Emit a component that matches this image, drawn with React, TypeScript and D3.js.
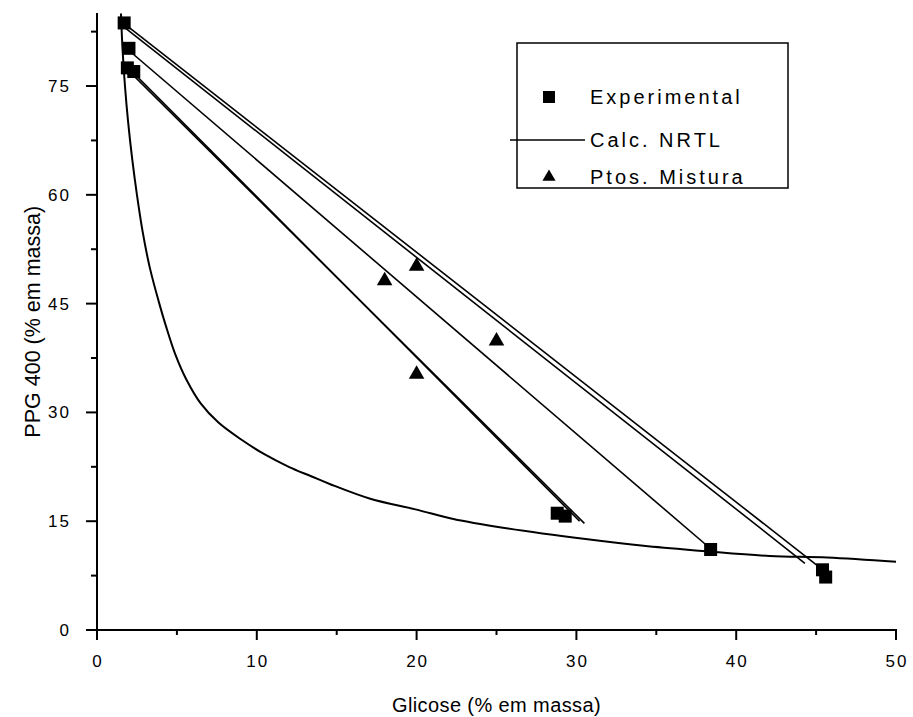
import React, { useEffect, useRef } from 'react';
import * as d3 from 'd3';

// binodal curve (NRTL)
const curveX = [1.5, 1.6, 1.75, 1.95, 2.2, 2.5, 2.85, 3.3, 3.9, 4.3, 4.9, 5.6, 6.5, 7.6, 9.0, 10.5, 12.0, 13.4, 14.6, 17.1, 20.0, 22.3, 25.4, 30.7, 34.2, 37.9, 42.1, 45.7, 50.0];
const curveY = [85.0, 80.0, 75.0, 70.0, 65.0, 60.0, 55.0, 50.0, 45.0, 42.0, 38.0, 34.5, 31.2, 28.6, 26.3, 24.2, 22.5, 21.2, 20.1, 18.1, 16.6, 15.3, 14.1, 12.5, 11.6, 10.9, 10.2, 10.0, 9.4];

// tie lines (top phase -> bottom phase)
const tieX1 = [1.7, 1.6, 2.0, 1.9, 2.2];
const tieY1 = [83.6, 83.3, 79.9, 77.3, 77.0];
const tieX2 = [45.3, 44.3, 38.4, 30.5, 30.2];
const tieY2 = [8.5, 9.2, 11.2, 14.7, 15.0];

// experimental points
const expX = [1.7, 2.0, 1.9, 2.3, 28.8, 29.3, 38.4, 45.4, 45.6];
const expY = [83.7, 80.2, 77.5, 77.0, 16.1, 15.7, 11.1, 8.3, 7.3];

// mixture points
const mixX = [18.0, 20.0, 25.0, 20.0];
const mixY = [48.3, 50.3, 40.0, 35.4];

const xTicks = [0, 10, 20, 30, 40, 50];
const yTicks = [0, 15, 30, 45, 60, 75];
const legendLabels = ['Experimental', 'Calc. NRTL', 'Ptos. Mistura'];

const App = () => {
  const ref = useRef<SVGSVGElement>(null);

  useEffect(() => {
    const svg = d3.select(ref.current);
    svg.selectAll('*').remove();

    const x = d3.scaleLinear().domain([0, 50]).range([97, 896]);
    const y = d3.scaleLinear().domain([0, 85]).range([630, 13.5]);
    const font = '"Liberation Sans", Arial, sans-serif';

    // tie lines
    const g = svg.append('g');
    tieX1.forEach((v, i) => {
      g.append('line')
        .attr('x1', x(v)).attr('y1', y(tieY1[i]))
        .attr('x2', x(tieX2[i])).attr('y2', y(tieY2[i]))
        .attr('stroke', '#000').attr('stroke-width', 1.6);
    });

    // binodal
    const line = d3.line<number>()
      .x((d, i) => x(curveX[i]))
      .y((d) => y(d))
      .curve(d3.curveCatmullRom);
    g.append('path')
      .attr('d', line(curveY) as string)
      .attr('fill', 'none').attr('stroke', '#000').attr('stroke-width', 2);

    // squares
    expX.forEach((v, i) => {
      g.append('rect')
        .attr('x', x(v) - 6.5).attr('y', y(expY[i]) - 6.5)
        .attr('width', 13).attr('height', 13).attr('fill', '#000');
    });

    // triangles
    const tri = d3.symbol().type(d3.symbolTriangle).size(105);
    mixX.forEach((v, i) => {
      g.append('path')
        .attr('d', tri() as string)
        .attr('transform', `translate(${x(v)},${y(mixY[i]) + 1})`)
        .attr('fill', '#000');
    });

    // x axis
    const xAxis = svg.append('g').attr('transform', 'translate(0,630)');
    xAxis.append('line').attr('x1', 96).attr('x2', 897).attr('stroke', '#000').attr('stroke-width', 2);
    d3.range(0, 51, 5).forEach((t) => {
      const major = t % 10 === 0;
      xAxis.append('line')
        .attr('x1', x(t)).attr('x2', x(t)).attr('y1', 0).attr('y2', major ? 10 : 5)
        .attr('stroke', '#000').attr('stroke-width', 2);
    });
    xTicks.forEach((t) => {
      xAxis.append('text')
        .attr('x', x(t) + 1).attr('y', 37)
        .attr('text-anchor', 'middle')
        .attr('font-family', font).attr('font-size', 17).attr('letter-spacing', 2)
        .text(t);
    });
    svg.append('text')
      .attr('x', x(25)).attr('y', 712)
      .attr('text-anchor', 'middle')
      .attr('font-family', font).attr('font-size', 20).attr('letter-spacing', 0.4)
      .text('Glicose (% em massa)');

    // y axis
    const yAxis = svg.append('g').attr('transform', 'translate(97,0)');
    yAxis.append('line').attr('y1', 13).attr('y2', 631).attr('stroke', '#000').attr('stroke-width', 2);
    d3.range(0, 83, 7.5).forEach((t) => {
      const major = t % 15 === 0;
      yAxis.append('line')
        .attr('y1', y(t)).attr('y2', y(t)).attr('x1', 0).attr('x2', major ? -11 : -6)
        .attr('stroke', '#000').attr('stroke-width', 2);
    });
    yTicks.forEach((t) => {
      yAxis.append('text')
        .attr('x', -26).attr('y', y(t) + 6)
        .attr('text-anchor', 'end')
        .attr('font-family', font).attr('font-size', 17).attr('letter-spacing', 2)
        .text(t);
    });
    svg.append('text')
      .attr('transform', `translate(40,${y(42.5)}) rotate(-90)`)
      .attr('text-anchor', 'middle')
      .attr('font-family', font).attr('font-size', 21.5)
      .text('PPG 400 (% em massa)');

    // legend
    const lg = svg.append('g').attr('transform', 'translate(517,43)');
    lg.append('rect').attr('width', 271).attr('height', 145)
      .attr('fill', '#fff').attr('stroke', '#000').attr('stroke-width', 1.5);
    const rows = [54, 97, 134];
    legendLabels.forEach((lab, i) => {
      const cy = rows[i];
      if (i === 0) {
        lg.append('rect').attr('x', 26).attr('y', cy - 6).attr('width', 12).attr('height', 12).attr('fill', '#000');
      } else if (i === 1) {
        lg.append('line').attr('x1', -7).attr('x2', 68).attr('y1', cy).attr('y2', cy).attr('stroke', '#000').attr('stroke-width', 1.5);
      } else {
        lg.append('path').attr('d', d3.symbol().type(d3.symbolTriangle).size(75)() as string)
          .attr('transform', `translate(32,${cy})`).attr('fill', '#000');
      }
      lg.append('text')
        .attr('x', 73).attr('y', cy + 7)
        .attr('font-family', font).attr('font-size', 20).attr('letter-spacing', 3)
        .text(lab);
    });
  }, []);

  return (
    <svg ref={ref} width={913} height={717} style={{ position: 'absolute', left: 0, top: 0, background: '#fff' }} />
  );
};

export default App;
